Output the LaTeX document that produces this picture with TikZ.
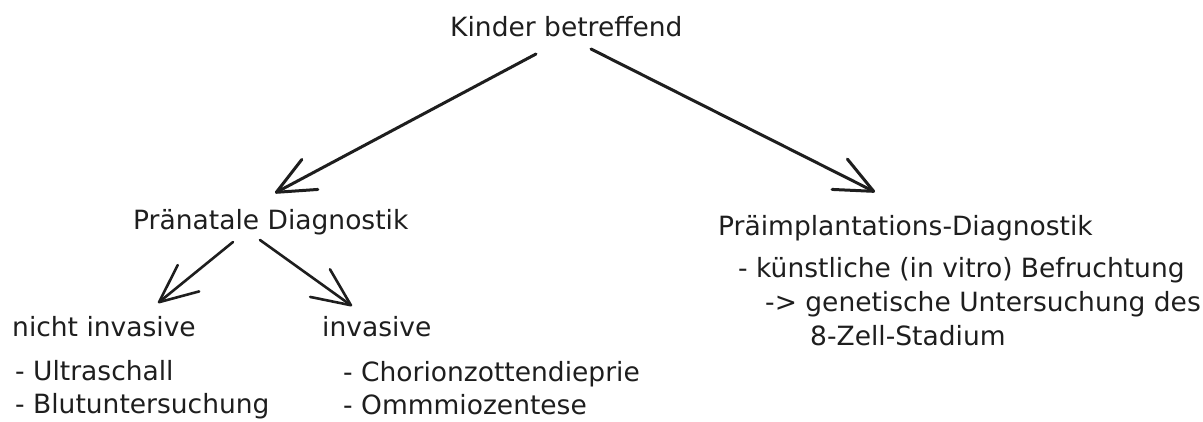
\documentclass[tikz,border=0pt]{standalone}
\usepackage{fontspec}
\setmainfont{DejaVu Sans}
\usetikzlibrary{arrows.meta}
\definecolor{ink}{RGB}{30,30,30}
\begin{document}
\begin{tikzpicture}[x=1pt,y=-1pt,
  lbl/.style={anchor=base west,inner sep=0pt,text=ink,font=\fontsize{26.5}{32}\selectfont},
  conn/.style={draw=ink,line width=3pt,line cap=round,line join=round,
    -{Straight Barb[length=38pt,width=34pt,line cap=round,line join=round]}}]
\useasboundingbox (0,0) rectangle (1203,421);
% texts
\node[lbl] (kinder) at (450,36) {Kinder betreffend};
\node[lbl] (praen) at (133,229) {Pränatale Diagnostik};
\node[lbl] (nicht) at (12,336) {nicht invasive};
\node[lbl] (inv) at (322,336) {invasive};
\node[lbl] (ultra) at (15,380) {- Ultraschall};
\node[lbl] (blut) at (15,413) {- Blutuntersuchung};
\node[lbl] (chor) at (343,381) {- Chorionzottendieprie};
\node[lbl] (omm) at (343,414) {- Ommmiozentese};
\node[lbl] (praeimp) at (718,235) {Präimplantations-Diagnostik};
\node[lbl] (kuenst) at (738,277) {- künstliche (in vitro) Befruchtung};
\node[lbl] (genet) at (765,311) {-> genetische Untersuchung des};
\node[lbl] (zell) at (810,345) {8-Zell-Stadium};
% connector end points
\coordinate (a1s) at (536,54);  \coordinate (a1e) at (275,193);
\coordinate (a2s) at (591,49);  \coordinate (a2e) at (875,192);
\coordinate (a3s) at (233,242); \coordinate (a3e) at (158,303);
\coordinate (a4s) at (260,240); \coordinate (a4e) at (352,306);
\draw[conn] (a1s) -- (a1e);
\draw[conn] (a2s) -- (a2e);
\draw[conn,line width=2.6pt] (a3s) -- (a3e);
\draw[conn,line width=2.6pt] (a4s) -- (a4e);
\end{tikzpicture}
\end{document}
